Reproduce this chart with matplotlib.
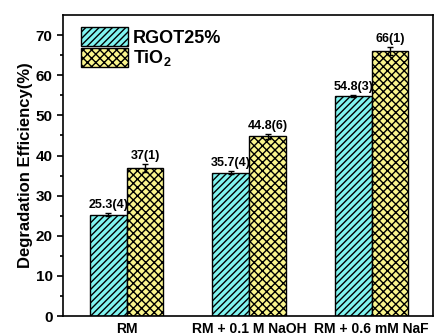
import matplotlib
matplotlib.use("Agg")
import matplotlib.pyplot as plt
import numpy as np

plt.rcParams.update({
    "font.family": ["Liberation Sans", "DejaVu Sans"],
    "font.weight": "bold",
    "hatch.linewidth": 1.0,
    "mathtext.fontset": "custom",
    "mathtext.rm": "Liberation Sans:bold",
    "mathtext.bf": "Liberation Sans:bold",
    "mathtext.default": "bf",
})

conditions = ["RM", "RM + 0.1 M NaOH", "RM + 0.6 mM NaF"]
rgot_vals = [25.3, 35.7, 54.8]
rgot_err = [0.4, 0.4, 0.3]
rgot_lbl = ["25.3(4)", "35.7(4)", "54.8(3)"]
tio2_vals = [37.0, 44.8, 66.0]
tio2_err = [1.0, 0.6, 1.0]
tio2_lbl = ["37(1)", "44.8(6)", "66(1)"]

fig = plt.figure(figsize=(4.39, 3.36), dpi=100)
ax = fig.add_axes([0.1435, 0.0595, 0.8425, 0.8955])

x = np.arange(1, len(conditions) + 1)
w = 0.3

ax.bar(x - w / 2, rgot_vals, w, color="#80F4F0", edgecolor="black",
       hatch="/////", linewidth=1.0, label="RGOT25%")
ax.bar(x + w / 2, tio2_vals, w, color="#FAF58C", edgecolor="black",
       hatch="xxxx", linewidth=1.0, label="TiO$_2$")
ax.errorbar(x - w / 2, rgot_vals, yerr=rgot_err, fmt="none", ecolor="black",
            elinewidth=1, capsize=2.5)
ax.errorbar(x + w / 2, tio2_vals, yerr=tio2_err, fmt="none", ecolor="black",
            elinewidth=1, capsize=2.5)

for xi, v, e, t in zip(x - w / 2, rgot_vals, rgot_err, rgot_lbl):
    ax.text(xi, v + e + 0.5, t, ha="center", va="bottom", fontsize=9,
            fontweight="bold")
for xi, v, e, t in zip(x + w / 2, tio2_vals, tio2_err, tio2_lbl):
    ax.text(xi, v + e + 0.5, t, ha="center", va="bottom", fontsize=9,
            fontweight="bold")

ax.set_xlim(0.48, 3.5)
ax.set_ylim(0, 75)
ax.set_yticks(np.arange(0, 71, 10))
ax.set_yticks(np.arange(5, 75, 10), minor=True)
ax.set_xticks(x)
ax.set_xticklabels(conditions, fontsize=10, fontweight="bold")
ax.tick_params(axis="x", length=0, pad=4)
ax.tick_params(axis="y", which="major", length=4, width=1.2, labelsize=11)
ax.tick_params(axis="y", which="minor", length=2, width=1.2)
ax.set_ylabel("Degradation Efficiency(%)", fontsize=12, fontweight="bold",
              labelpad=2)
for s in ax.spines.values():
    s.set_linewidth(1.2)

ax.legend(loc="upper left", bbox_to_anchor=(0.049, 0.96), frameon=False,
          fontsize=13, handlelength=2.6, handleheight=1.25,
          borderaxespad=0, borderpad=0, labelspacing=0.05,
          handletextpad=0.25)

plt.savefig("out.png", dpi=100)
plt.close()
